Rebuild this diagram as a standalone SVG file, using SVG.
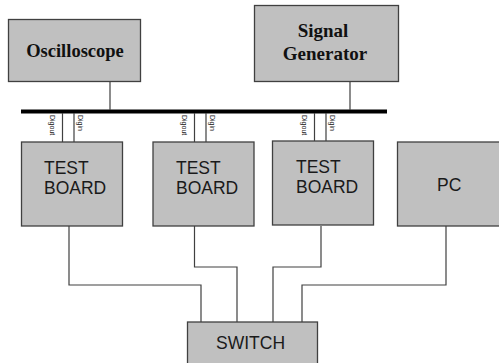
<svg xmlns="http://www.w3.org/2000/svg" width="499" height="363" viewBox="0 0 499 363">
<style>
.box{fill:#c0c0c0;stroke:#404040;stroke-width:1.3}
.wire{fill:none;stroke:#404040;stroke-width:1.2}
.serif{font-family:"Liberation Serif","Times New Roman",serif;font-weight:bold;fill:#111;text-anchor:middle}
.sans{font-family:"Liberation Sans",Arial,sans-serif;fill:#1a1a1a;font-size:17.5px}
.tiny{font-family:"Liberation Sans",Arial,sans-serif;fill:#222;font-size:7px}
</style>
<rect width="499" height="363" fill="#fff"/>
<g id="connectors">
  <line x1="21" y1="111.5" x2="387" y2="111.5" stroke="#000" stroke-width="4"/>
  <path class="wire" d="M110 82V110M350 82V110"/>
  <path class="wire" d="M62.5 113V142M74 113V142M194.5 113V142M206 113V142M314.5 113V142M326 113V142"/>
  <path class="wire" d="M69 226V285H201V322M194.5 226V267H237V322M321 226V267H273V322M446 226V285H302V322"/>
  <g class="tiny">
    <text transform="translate(50,115) rotate(90)">Digout</text>
    <text transform="translate(78,115) rotate(90)">Digin</text>
    <text transform="translate(182,115) rotate(90)">Digout</text>
    <text transform="translate(210,115) rotate(90)">Digin</text>
    <text transform="translate(302,115) rotate(90)">Digout</text>
    <text transform="translate(330,115) rotate(90)">Digin</text>
  </g>
</g>
<g id="oscilloscope">
  <rect class="box" x="8.5" y="19.5" width="132" height="62"/>
  <text class="serif" x="75" y="57" font-size="18.5">Oscilloscope</text>
</g>
<g id="signal-generator">
  <rect class="box" x="254.5" y="5.5" width="144" height="76"/>
  <text class="serif" x="323" y="37" font-size="19">Signal</text>
  <text class="serif" x="325" y="60" font-size="19">Generator</text>
</g>
<g id="test-board-1">
  <rect class="box" x="21.5" y="142" width="101" height="84"/>
  <text class="sans" x="44" y="174">TEST</text>
  <text class="sans" x="44" y="194">BOARD</text>
</g>
<g id="test-board-2">
  <rect class="box" x="153" y="142" width="101" height="84"/>
  <text class="sans" x="176" y="174">TEST</text>
  <text class="sans" x="176" y="194">BOARD</text>
</g>
<g id="test-board-3">
  <rect class="box" x="272.5" y="141" width="101" height="84"/>
  <text class="sans" x="296" y="173">TEST</text>
  <text class="sans" x="296" y="193">BOARD</text>
</g>
<g id="pc">
  <rect class="box" x="397.5" y="142" width="115" height="84"/>
  <text class="sans" x="437" y="191">PC</text>
</g>
<g id="switch">
  <rect class="box" x="187.5" y="322" width="130" height="50"/>
  <text class="sans" x="216" y="349">SWITCH</text>
</g>
</svg>
